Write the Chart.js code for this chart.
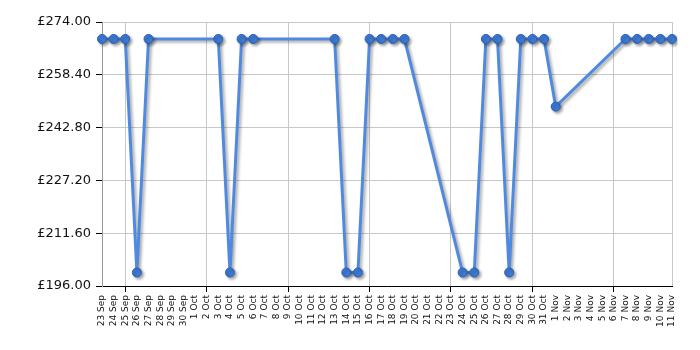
<!DOCTYPE html>
<html>
<head>
<meta charset="utf-8">
<script src="https://cdn.jsdelivr.net/npm/chart.js@4/dist/chart.umd.min.js"></script>
<style>
html,body{margin:0;padding:0;background:#fff;}
#wrap{width:700px;height:350px;position:relative;}
</style>
</head>
<body>
<div id="wrap"><canvas id="c" width="700" height="350"></canvas></div>
<script>
const categories = [
  "23 Sep","24 Sep","25 Sep","26 Sep","27 Sep","28 Sep","29 Sep","30 Sep",
  "1 Oct","2 Oct","3 Oct","4 Oct","5 Oct","6 Oct","7 Oct","8 Oct","9 Oct","10 Oct",
  "11 Oct","12 Oct","13 Oct","14 Oct","15 Oct","16 Oct","17 Oct","18 Oct","19 Oct","20 Oct",
  "21 Oct","22 Oct","23 Oct","24 Oct","25 Oct","26 Oct","27 Oct","28 Oct","29 Oct","30 Oct","31 Oct",
  "1 Nov","2 Nov","3 Nov","4 Nov","5 Nov","6 Nov","7 Nov","8 Nov","9 Nov","10 Nov","11 Nov"
];
const prices = [
  268.99,268.99,268.99,199.99,268.99,null,null,null,
  null,null,268.99,199.99,268.99,268.99,null,null,null,null,
  null,null,268.99,199.99,199.99,268.99,268.99,268.99,268.99,null,
  null,null,null,199.99,199.99,268.99,268.99,199.99,268.99,268.99,268.99,
  249.00,null,null,null,null,null,268.99,268.99,268.99,268.99,268.99
];
const yTickValues = [196, 211.6, 227.2, 242.8, 258.4, 274];

const shadowPlugin = {
  id: 'shadow',
  beforeDatasetsDraw(chart) {
    const ctx = chart.ctx;
    ctx.save();
    ctx.shadowColor = 'rgba(0,0,0,0.35)';
    ctx.shadowBlur = 3;
    ctx.shadowOffsetX = 2;
    ctx.shadowOffsetY = 2;
  },
  afterDatasetsDraw(chart) {
    chart.ctx.restore();
  }
};

new Chart(document.getElementById('c'), {
  type: 'line',
  data: {
    labels: categories,
    datasets: [{
      data: prices,
      spanGaps: true,
      borderColor: '#4f8ae0',
      borderWidth: 3,
      tension: 0,
      pointRadius: 4.5,
      pointBackgroundColor: '#3d7ad6',
      pointBorderColor: '#2b5fae',
      pointBorderWidth: 1,
      pointHoverRadius: 4.5
    }]
  },
  options: {
    responsive: false,
    animation: false,
    devicePixelRatio: 1,
    layout: { padding: { left: 0, right: 28, top: 22, bottom: 0 } },
    plugins: { legend: { display: false }, tooltip: { enabled: false } },
    scales: {
      x: {
        offset: false,
        border: { color: '#000', width: 1 },
        grid: {
          color: (c) => (c.index % 7 === 2 || c.index === 49) ? '#c8c8c8' : 'rgba(0,0,0,0)',
          tickColor: (c) => (c.index % 7 === 2) ? '#000' : 'rgba(0,0,0,0)',
          tickLength: 6,
          drawTicks: true
        },
        ticks: {
          autoSkip: false,
          minRotation: 90,
          maxRotation: 90,
          padding: 3,
          color: '#111',
          font: { family: 'DejaVu Sans', size: 9 }
        },
        afterFit: (s) => { s.height = 64; }
      },
      y: {
        min: 196,
        max: 274,
        border: { color: '#999', width: 1 },
        grid: { color: '#c8c8c8', tickColor: '#000', tickLength: 6 },
        afterBuildTicks: (s) => { s.ticks = yTickValues.map(v => ({ value: v })); },
        ticks: {
          padding: 5,
          color: '#111',
          font: { family: 'DejaVu Sans', size: 13 },
          callback: (v) => '£' + Number(v).toFixed(2)
        },
        afterFit: (s) => { s.width = 102; }
      }
    }
  },
  plugins: [shadowPlugin]
});
</script>
</body>
</html>
